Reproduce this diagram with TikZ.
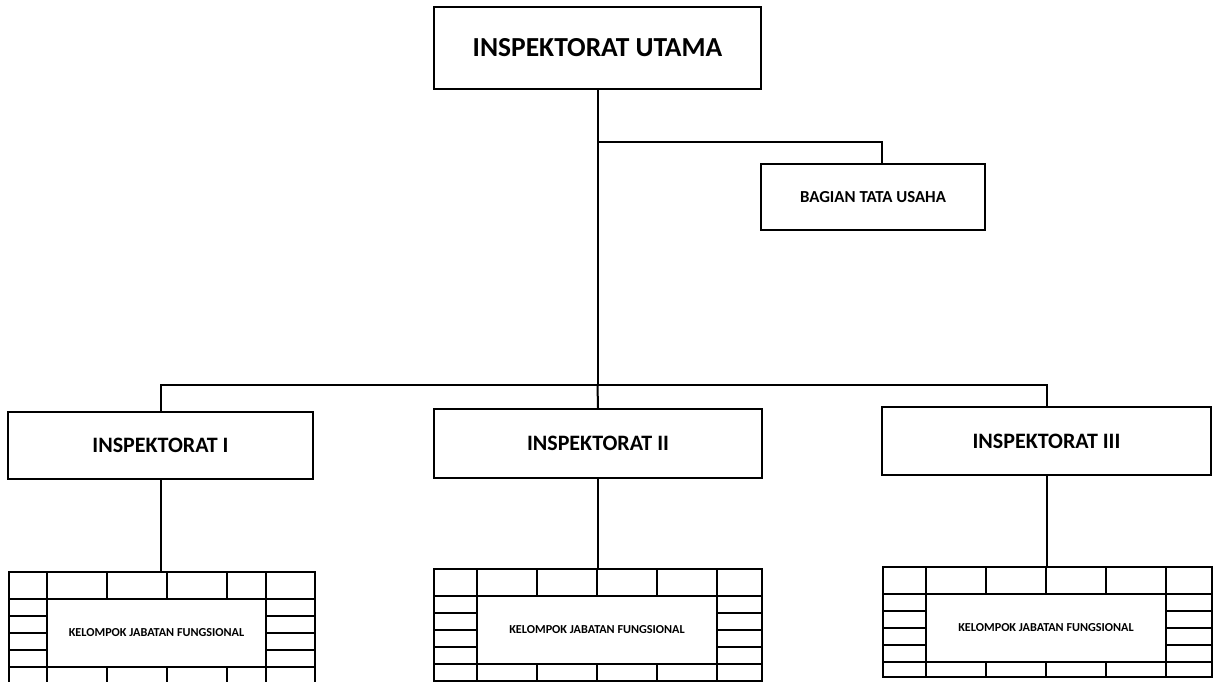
\documentclass[tikz,border=0pt]{standalone}
\usepackage{fontspec}
\setmainfont{Carlito}
\tikzset{
  x=1pt, y=-1pt,
  orgbox/.style={draw, line width=2pt, inner sep=0pt, align=center, font=\bfseries},
  link/.style={line width=2pt},
  grid/.style={line width=1.6pt},
  kjfouter/.style={draw, line width=2pt, inner sep=0pt},
  kjfinner/.style={inner sep=0pt, font=\bfseries\fontsize{12.2}{14}\selectfont},
}
% #1 name, #2 x0, #3 y0, #4 x1, #5 y1, #6 inner left, #7 inner right, #8 middle columns
\newcommand\kjfbox[8]{%
  \node[kjfouter, minimum width={(#4-#2)*1pt}, minimum height={(#5-#3)*1pt}] (#1) at ({(#2+#4)/2},{(#3+#5)/2}) {};
  \node[kjfinner, minimum width={(#7-#6)*1pt}, minimum height=68pt] (#1t) at ({(#6+#7)/2},{#3+61}) {KELOMPOK JABATAN FUNGSIONAL};
  \draw[grid] (#2,{#3+27}) -- (#4,{#3+27});
  \draw[grid] (#2,{#3+95}) -- (#4,{#3+95});
  \draw[grid] (#6,#3) -- (#6,#5);
  \draw[grid] (#7,#3) -- (#7,#5);
  \foreach \cc in {#8} {
    \draw[grid] (\cc,#3) -- (\cc,{#3+27});
    \draw[grid] (\cc,{#3+95}) -- (\cc,#5);
  }
  \foreach \rr in {44,61,78} {
    \draw[grid] (#2,{#3+\rr}) -- (#6,{#3+\rr});
    \draw[grid] (#7,{#3+\rr}) -- (#4,{#3+\rr});
  }
}
\begin{document}
\begin{tikzpicture}
\useasboundingbox (0,0) rectangle (1216,682);
\fill[white] (0,0) rectangle (1216,682);

\node[orgbox, minimum width=327pt, minimum height=82pt, font=\bfseries\fontsize{27.5}{32}\selectfont] (utama) at (597.5,48) {INSPEKTORAT UTAMA};
\node[orgbox, minimum width=224pt, minimum height=66pt, font=\bfseries\fontsize{16.8}{20}\selectfont] (tu) at (873,197) {BAGIAN TATA USAHA};
\node[orgbox, minimum width=305pt, minimum height=67pt, font=\bfseries\fontsize{22}{26}\selectfont] (insp1) at (160.5,445.5) {INSPEKTORAT I};
\node[orgbox, minimum width=328pt, minimum height=69pt, font=\bfseries\fontsize{22}{26}\selectfont] (insp2) at (598,443.5) {INSPEKTORAT II};
\node[orgbox, minimum width=329pt, minimum height=68pt, font=\bfseries\fontsize{22}{26}\selectfont] (insp3) at (1046.5,441) {INSPEKTORAT III};

\kjfbox{kjf1}{9}{572}{315}{684}{47}{266}{107,167,227}
\kjfbox{kjf2}{434}{569}{762}{681}{477}{717}{537,597,657}
\kjfbox{kjf3}{883}{567}{1212}{677}{926}{1166}{986,1046,1106}

\coordinate (b1) at (597.5,142);
\coordinate (b2) at (597.5,385);
\draw[link] (utama.south) -- (b2);
\draw[link] (b1) -| ([xshift=9pt]tu.north);
\draw[link] (insp1.north) |- (b2) -| (insp3.north);
\draw[link] (b2) -- (insp2.north);
\draw[link] (insp1.south) -- (insp1.south |- kjf1.north);
\draw[link] (insp2.south) -- (insp2.south |- kjf2.north);
\draw[link] (insp3.south) -- (insp3.south |- kjf3.north);
\end{tikzpicture}
\end{document}
